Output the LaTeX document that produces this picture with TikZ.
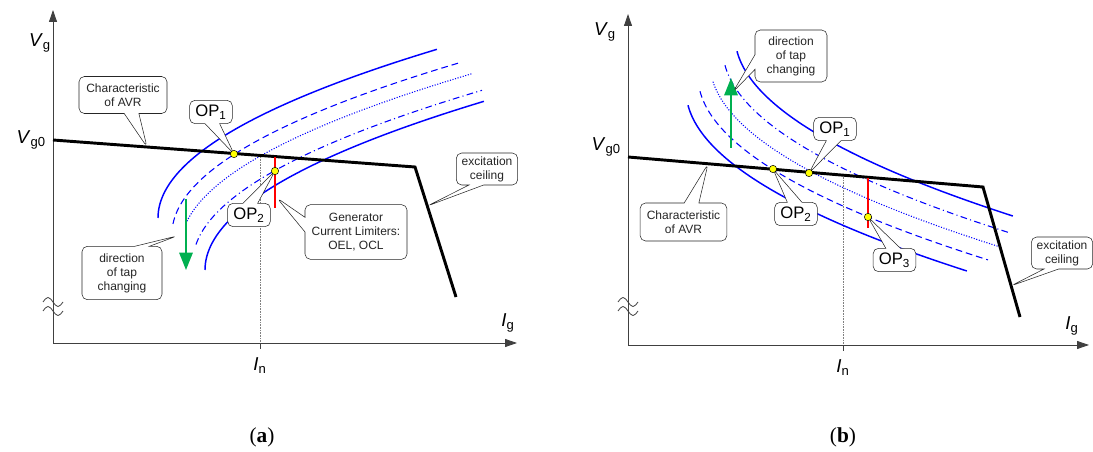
\documentclass[tikz,border=0pt]{standalone}
\usepackage{fontspec}
\setmainfont{Liberation Sans}
\newfontfamily\capfont{Liberation Serif}
\usepackage{xcolor}
\definecolor{cCurve}{HTML}{0000FF}
\definecolor{cLimit}{HTML}{FF0000}
\definecolor{cTap}{HTML}{00B050}
\definecolor{cAxis}{HTML}{404040}
\definecolor{cDot}{HTML}{FFFF00}
\usetikzlibrary{arrows.meta,calc,shapes.callouts}
\tikzset{
  axis-line/.style={draw=cAxis,semithick,-{Triangle[length=9pt,width=6pt]}},
  avr-line/.style={draw=black,line width=2.2pt,line join=miter},
  curve-solid/.style={draw=cCurve,line width=1.1pt},
  curve-dash/.style={draw=cCurve,line width=0.8pt,dash pattern=on 5pt off 3pt},
  curve-dot/.style={draw=cCurve,line width=0.8pt,dash pattern=on 0.8pt off 1.2pt},
  curve-dashdot/.style={draw=cCurve,line width=0.8pt,dash pattern=on 5pt off 2.5pt on 0.8pt off 2.5pt},
  limit-line/.style={draw=cLimit,line width=1.5pt},
  tap-arrow/.style={draw=cTap,line width=1.5pt,-{Triangle[length=13pt,width=10pt]}},
  ref-line/.style={draw=gray,very thin,densely dotted},
  break-mark/.style={draw=cAxis,semithick},
  node-callout/.style={rectangle callout,draw=black!85,thin,rounded corners=4pt,
    fill=white,align=center,inner sep=1pt,callout pointer width=11pt,
    font=\fontsize{9}{10.5}\selectfont,text=black!85},
  node-op/.style={node-callout,font=\fontsize{12.5}{14}\selectfont,text=black,
    minimum width=32pt,minimum height=17.5pt},
  node-dot/.style={circle,draw=black,thin,fill=cDot,minimum size=5.5pt,inner sep=0pt},
  axis-label/.style={font=\fontsize{14}{16}\selectfont,inner sep=0pt},
  panel-label/.style={font=\capfont\fontsize{16}{18}\selectfont,inner sep=0pt},
}

\begin{document}
\begin{tikzpicture}[x=0.75pt,y=-0.75pt]
  \useasboundingbox (0,0) rectangle (1093,452);

  % ---- (a) ----
  \coordinate (a-o) at (53,343);
  \coordinate (a-ytop) at (53,10);
  \coordinate (a-xend) at (517,343);
  \coordinate (a-avr0) at (53,140);
  \coordinate (a-knee) at (415,167);
  \coordinate (a-avr1) at (456,297);
  \coordinate (a-in) at (260,343);
  \coordinate (a-intick) at (260,349);
  \coordinate (a-inavr) at (260,155.5);
  \coordinate (a-op1) at (234,154);
  \coordinate (a-op2) at (275,171);
  \coordinate (a-lim0) at (275,157);
  \coordinate (a-lim1) at (275,208);
  \coordinate (a-tap0) at (186,199);
  \coordinate (a-tap1) at (186,270);
  \coordinate (a-tapptr) at (177,236);
  \coordinate (a-limptr) at (277,198);

  \draw[axis-line] (a-o) -- (a-ytop);
  \draw[axis-line] (a-o) -- (a-xend);
  \foreach \yy in {302,311}
    \draw[break-mark] (43,\yy) sin (48,\yy-4.5) cos (53,\yy) sin (58,\yy+4.5) cos (63,\yy);
  \draw[ref-line] (a-in) -- (a-inavr);
  \draw[cAxis,semithick] (a-in) -- (a-intick);

  \foreach \vx/\vy/\ss/\se/\sty in {158/218/0/16.70/curve-solid,172/234/1/16.97/curve-dash,
      181/246/2.45/17.06/curve-dot,193/262/1.73/17.0/curve-dashdot,205/270/0/16.70/curve-solid}
    \draw[\sty] plot[smooth,samples=50,variable=\t,domain=\ss:\se] ({\vx+\t*\t},{\vy-10.1*\t});

  \draw[avr-line] (a-avr0) -- (a-knee) -- (a-avr1);
  \draw[limit-line] (a-lim0) -- (a-lim1);
  \draw[tap-arrow] (a-tap0) -- (a-tap1);

  \node[node-callout,minimum width=66pt,minimum height=27.75pt,
    callout absolute pointer={(147,147)}] (a-avr) at (123,95) {Characteristic\\of AVR};
  \node[node-op,callout absolute pointer={(a-op1)}] (a-op1box) at (211,112) {OP\textsubscript{1}};
  \node[node-op,callout absolute pointer={(a-op2)}] (a-op2box) at (249,215) {OP\textsubscript{2}};
  \node[node-callout,minimum width=76.5pt,minimum height=41pt,
    callout absolute pointer={(a-limptr)}] (a-lim) at (356,232) {Generator\\Current Limiters:\\OEL, OCL};
  \node[node-callout,minimum width=60pt,minimum height=40pt,
    callout absolute pointer={(a-tapptr)}] (a-tap) at (122,273) {direction\\of tap\\changing};
  \node[node-callout,minimum width=46pt,minimum height=24pt,
    callout absolute pointer={($(a-knee)!0.3!(a-avr1)$)}] (a-ceil) at (487,169) {excitation\\ceiling};

  \node[node-dot] (a-op1dot) at (a-op1) {};
  \node[node-dot] (a-op2dot) at (a-op2) {};

  \node[axis-label] (a-vg) at (40,43) {\textit{V}\textsubscript{g}};
  \node[axis-label,anchor=east] (a-vg0) at (46,140) {\textit{V}\textsubscript{g0}};
  \node[axis-label] (a-ig) at (508,323) {\textit{I}\textsubscript{g}};
  \node[axis-label] (a-inl) at (260,366) {\textit{I}\textsubscript{n}};
  \node[panel-label] (a-cap) at (262,437) {(\textbf{a})};

  % ---- (b) ----
  \coordinate (b-o) at (628,345);
  \coordinate (b-ytop) at (628,14);
  \coordinate (b-xend) at (1089,345);
  \coordinate (b-avr0) at (628,157);
  \coordinate (b-knee) at (983,187);
  \coordinate (b-avr1) at (1020,317);
  \coordinate (b-in) at (843,345);
  \coordinate (b-intick) at (843,351);
  \coordinate (b-inavr) at (843,175);
  \coordinate (b-op1) at (809,173);
  \coordinate (b-op2) at (773,169);
  \coordinate (b-op3) at (868,217);
  \coordinate (b-lim0) at (868,178);
  \coordinate (b-lim1) at (868,228);
  \coordinate (b-tap0) at (731,148);
  \coordinate (b-tap1) at (731,78);
  \coordinate (b-tapptr) at (733,92);

  \draw[axis-line] (b-o) -- (b-ytop);
  \draw[axis-line] (b-o) -- (b-xend);
  \foreach \yy in {302,311}
    \draw[break-mark] (618,\yy) sin (623,\yy-4.5) cos (628,\yy) sin (633,\yy+4.5) cos (638,\yy);
  \draw[ref-line] (b-in) -- (b-inavr);
  \draw[cAxis,semithick] (b-in) -- (b-intick);

  \foreach \vx/\vy/\ss/\se/\sty in {735/36/1.41/16.67/curve-solid,723/50/1.41/16.94/curve-dashdot,
      710/63/1.73/17.03/curve-dot,698/76/1.41/17.03/curve-dash,686/90/1.41/16.76/curve-solid}
    \draw[\sty] plot[smooth,samples=50,variable=\t,domain=\ss:\se] ({\vx+\t*\t},{\vy+10.8*\t});

  \draw[avr-line] (b-avr0) -- (b-knee) -- (b-avr1);
  \draw[limit-line] (b-lim0) -- (b-lim1);
  \draw[tap-arrow] (b-tap0) -- (b-tap1);

  \node[node-callout,minimum width=54pt,minimum height=39pt,
    callout absolute pointer={(b-tapptr)}] (b-tap) at (791,56) {direction\\of tap\\changing};
  \node[node-callout,minimum width=65pt,minimum height=28.5pt,
    callout absolute pointer={(708,164)}] (b-avr) at (683.5,222) {Characteristic\\of AVR};
  \node[node-op,callout absolute pointer={(b-op1)}] (b-op1box) at (835,129) {OP\textsubscript{1}};
  \node[node-op,callout absolute pointer={(b-op2)}] (b-op2box) at (796,214) {OP\textsubscript{2}};
  \node[node-op,callout absolute pointer={(b-op3)}] (b-op3box) at (894.5,260) {OP\textsubscript{3}};
  \node[node-callout,minimum width=46pt,minimum height=24pt,
    callout absolute pointer={($(b-knee)!0.76!(b-avr1)$)}] (b-ceil) at (1062,253) {excitation\\ceiling};

  \node[node-dot] (b-op1dot) at (b-op1) {};
  \node[node-dot] (b-op2dot) at (b-op2) {};
  \node[node-dot] (b-op3dot) at (b-op3) {};

  \node[axis-label] (b-vg) at (605,32) {\textit{V}\textsubscript{g}};
  \node[axis-label,anchor=east] (b-vg0) at (621,147) {\textit{V}\textsubscript{g0}};
  \node[axis-label] (b-ig) at (1072,326) {\textit{I}\textsubscript{g}};
  \node[axis-label] (b-inl) at (843,368) {\textit{I}\textsubscript{n}};
  \node[panel-label] (b-cap) at (843,437) {(\textbf{b})};
\end{tikzpicture}
\end{document}
